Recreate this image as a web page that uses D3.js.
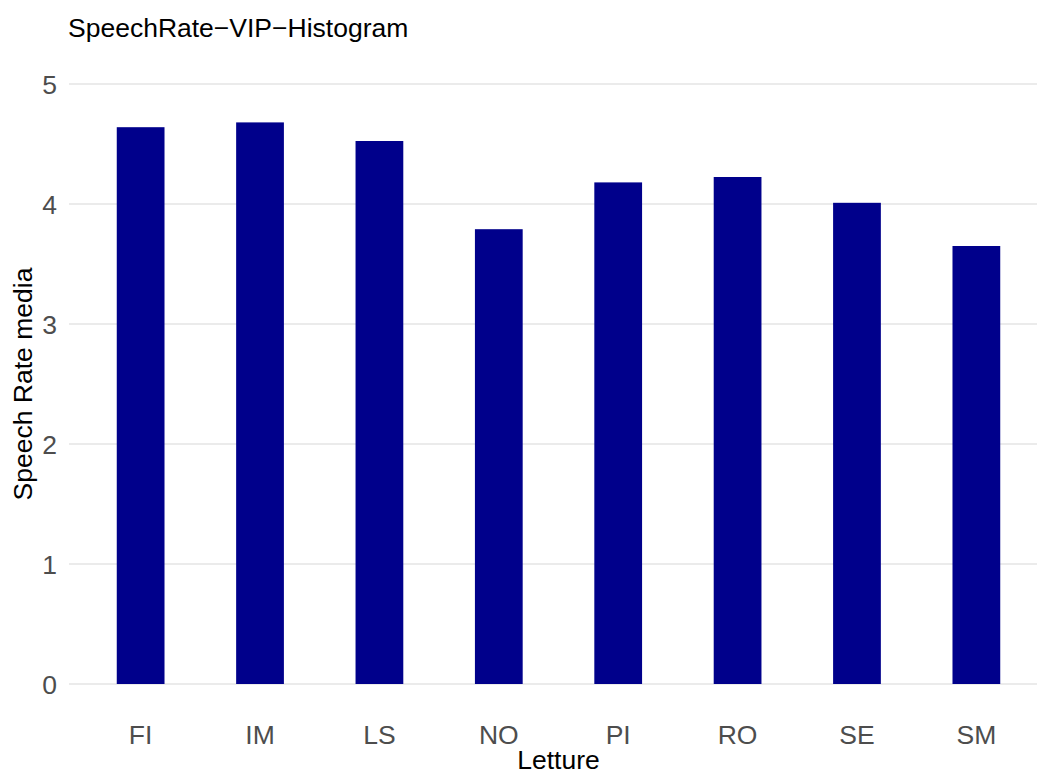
<!DOCTYPE html>
<html lang="en">
<head>
  <meta charset="UTF-8" />
  <title>SpeechRate-VIP-Histogram</title>
  <style>
    body { margin: 0; background: #fff; font-family: "Liberation Sans", Arial, sans-serif; }
    .grid line { stroke: #ebebeb; stroke-width: 2; }
    .bar { fill: #00008b; }
  </style>
</head>
<body>
  <div id="chart"></div>
  <script src="https://d3js.org/d3.v7.min.js"></script>
  <script>
    // data
    var letture = ["FI", "IM", "LS", "NO", "PI", "RO", "SE", "SM"];
    var speechRate = [4.64, 4.68, 4.525, 3.79, 4.18, 4.225, 4.01, 3.65];
    var yTicks = [0, 1, 2, 3, 4, 5];

    var width = 1037, height = 775;
    var panel = {left: 69, right: 1048, top: 84, bottom: 684};
    var fs = "26.5px";

    var svg = d3.select("#chart")
      .append("svg")
      .attr("width", width)
      .attr("height", height);

    var x = d3.scaleBand()
      .domain(letture)
      .range([panel.left, panel.right])
      .paddingInner(0.6)
      .paddingOuter(0.4);

    var y = d3.scaleLinear()
      .domain([0, 5])
      .range([panel.bottom, panel.top]);

    // horizontal grid lines
    svg.append("g")
      .attr("class", "grid")
      .selectAll("line")
      .data(yTicks)
      .enter()
      .append("line")
      .attr("x1", panel.left)
      .attr("x2", panel.right)
      .attr("y1", function(d) { return y(d); })
      .attr("y2", function(d) { return y(d); });

    // bars
    svg.selectAll("rect.bar")
      .data(letture)
      .enter()
      .append("rect")
      .attr("class", "bar")
      .attr("x", function(d) { return x(d); })
      .attr("width", x.bandwidth())
      .attr("y", function(d, i) { return y(speechRate[i]); })
      .attr("height", function(d, i) { return y(0) - y(speechRate[i]); });

    // axes without lines, just labels
    var yAxis = svg.append("g")
      .attr("transform", "translate(" + (panel.left - 12) + ",0)")
      .call(d3.axisLeft(y).tickValues(yTicks).tickFormat(d3.format("d")).tickSize(0).tickPadding(0));
    var xAxis = svg.append("g")
      .attr("transform", "translate(0," + (panel.bottom + 41) + ")")
      .call(d3.axisBottom(x).tickSize(0).tickPadding(0));

    [xAxis, yAxis].forEach(function(a) {
      a.select(".domain").remove();
      a.selectAll("text")
        .attr("fill", "#4d4d4d")
        .style("font-family", "'Liberation Sans', Arial, sans-serif")
        .style("font-size", fs);
    });
    yAxis.selectAll("text").attr("dy", "0.36em");
    xAxis.selectAll("text").attr("dy", "0.72em");

    // titles
    svg.append("text")
      .attr("x", 68)
      .attr("y", 37)
      .style("font-size", fs)
      .text("SpeechRate\u2212VIP\u2212Histogram");

    svg.append("text")
      .attr("x", (panel.left + panel.right) / 2)
      .attr("y", 769)
      .attr("text-anchor", "middle")
      .style("font-size", fs)
      .text("Letture");

    svg.append("text")
      .attr("transform", "translate(32," + (panel.top + panel.bottom) / 2 + ") rotate(-90)")
      .attr("text-anchor", "middle")
      .style("font-size", fs)
      .text("Speech Rate media");
  </script>
</body>
</html>
